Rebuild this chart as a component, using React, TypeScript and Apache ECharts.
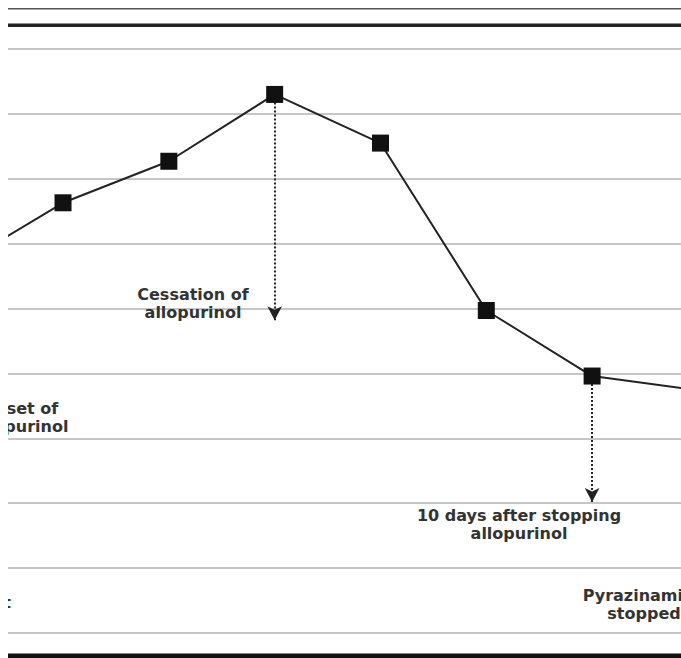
import React, { useEffect, useRef } from "react";
import * as echarts from "echarts";

// visit index along x (points are evenly spaced); -1 and 6 lie outside the cropped view
const visitIndex = [-1, 0, 1, 2, 3, 4, 5, 6];
const serumValue = [7.65, 8.63, 9.27, 10.3, 9.55, 6.97, 5.96, 5.74];

// event arrows: [x index, start value, end value]
const cessationArrow = [2, 10.3, 6.82];
const tenDaysArrow = [5, 5.96, 4.02];

const yMin = 2;
const yMax = 11;
const yInterval = 1;
const xMin = -0.52;
const xMax = 5.84;

export default function App() {
  const ref = useRef<HTMLDivElement>(null);
  useEffect(() => {
    if (!ref.current) return;
    const chart = echarts.init(ref.current, null, { renderer: "svg" });
    const font = "DejaVu Sans";
    const txt = (text: string, x: number, y: number, align: string = "center") => ({
      type: "text",
      x,
      y,
      z: 10,
      style: {
        text,
        fill: "#333",
        font: `bold 16px '${font}'`,
        textAlign: align,
        textVerticalAlign: "middle",
        lineHeight: 18,
      },
    });
    chart.setOption({
      animation: false,
      backgroundColor: "#fff",
      grid: { left: 0, right: 0, top: 41, bottom: 25, containLabel: false },
      xAxis: {
        type: "value",
        min: xMin,
        max: xMax,
        show: false,
      },
      yAxis: {
        type: "value",
        min: yMin,
        max: yMax,
        interval: yInterval,
        axisLabel: { show: false },
        axisLine: { show: false },
        axisTick: { show: false },
        splitLine: { show: true, lineStyle: { color: "#c6c6c6", width: 2 } },
      },
      series: [
        {
          type: "line",
          data: visitIndex.map((x, i) => [x, serumValue[i]]),
          clip: true,
          symbol: "rect",
          symbolSize: 17,
          itemStyle: { color: "#111" },
          lineStyle: { color: "#222", width: 2 },
          z: 5,
          markLine: {
            silent: true,
            symbol: ["none", "arrow"],
            symbolSize: [11, 14],
            label: { show: false },
            lineStyle: { color: "#222", width: 2, type: [2, 2] },
            z: 3,
            data: [
              [
                { coord: [cessationArrow[0], cessationArrow[1]] },
                { coord: [cessationArrow[0], cessationArrow[2]] },
              ],
              [
                { coord: [tenDaysArrow[0], tenDaysArrow[1]] },
                { coord: [tenDaysArrow[0], tenDaysArrow[2]] },
              ],
            ],
          },
        },
      ],
      graphic: [
        { type: "rect", shape: { x: 0, y: 0, width: 673, height: 1.5 }, style: { fill: "#555" } },
        { type: "rect", shape: { x: 0, y: 15.5, width: 673, height: 3.5 }, style: { fill: "#222" } },
        { type: "rect", shape: { x: 0, y: 645.5, width: 673, height: 4.5 }, style: { fill: "#111" } },
        txt("Cessation of\nallopurinol", 185, 295),
        txt("Onset of\nallopurinol", 12, 409),
        txt("10 days after stopping\nallopurinol", 511, 516),
        txt("Pyrazinamide\nstopped", 636, 596),
        txt("Start", 3, 594, "right"),
      ],
    });
    return () => chart.dispose();
  }, []);
  return (
    <div
      ref={ref}
      style={{ position: "absolute", left: 8, top: 8, width: 673, height: 650 }}
    />
  );
}
